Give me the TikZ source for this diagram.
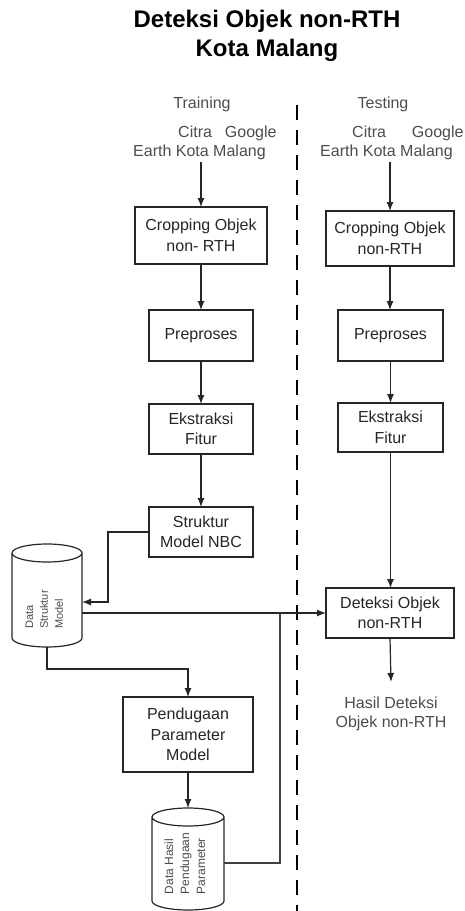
\documentclass[tikz,border=0pt]{standalone}
\usepackage{fontspec}
\setmainfont{Liberation Sans}
\usepackage{graphicx}
\usetikzlibrary{arrows.meta}

\newcommand\tank[2]{%
	\draw[tankline] ([yshift=-9pt]#1.north west) -- ([yshift=9pt]#1.south west)
		arc[start angle=180,end angle=360,x radius=#2pt,y radius=9pt]
		-- ([yshift=-9pt]#1.north east)
		arc[start angle=0,end angle=180,x radius=#2pt,y radius=9pt]
		arc[start angle=180,end angle=360,x radius=#2pt,y radius=9pt];}

\begin{document}
\begin{tikzpicture}[x=1pt,y=1pt,
		procbox/.style={draw=black!85,line width=1.4pt,fill=white,text=black!85,align=center,inner sep=0pt,outer sep=0pt,font=\fontsize{16}{20.5}\selectfont},
		caption/.style={text=black!70,inner sep=0pt,font=\fontsize{16}{19}\selectfont},
		tank/.style={inner sep=0pt,outer sep=0pt},
		tanktext/.style={inner sep=0pt,text=black!70},
		tankline/.style={draw=black!85,line width=1.2pt},
		flow/.style={draw=black!85,line width=1.2pt,-{Latex[length=9pt,width=7pt]}},
		link/.style={draw=black!75,line width=1.2pt}]
	\useasboundingbox (0,0) rectangle (464,-911);
	\node[font=\fontsize{24}{29}\selectfont\bfseries,align=center] (judul) at (267,-36) {Deteksi Objek non-RTH\\Kota Malang};
	\draw[line width=1.4pt,dash pattern=on 15pt off 10pt] (297,-105) -- (297,-911);
	\node[caption,anchor=base] (train) at (202,-108) {Training};
	\node[caption,anchor=base] (test) at (383,-108) {Testing};
	\node[caption,align=left,anchor=north west] (srcL) at (133,-125.5) {\hspace*{45pt}Citra\hspace{13pt}Google\\Earth Kota Malang};
	\node[caption,align=left,anchor=north west] (srcR) at (320,-125.5) {\hspace*{32pt}Citra\hspace{26pt}Google\\Earth Kota Malang};
	\node[procbox,minimum width=132pt,minimum height=57pt] (cropL) at (201,-235.5) {Cropping Objek\\non- RTH};
	\node[procbox,minimum width=128pt,minimum height=55pt] (cropR) at (390,-238.5) {Cropping Objek\\non-RTH};
	\node[procbox,minimum width=104pt,minimum height=51pt] (preL) at (201,-335.5) {Preproses};
	\node[procbox,minimum width=105pt,minimum height=51pt] (preR) at (390.5,-335.5) {Preproses};
	\node[procbox,minimum width=104pt,minimum height=50pt] (ekstL) at (201,-429) {Ekstraksi\\Fitur};
	\node[procbox,minimum width=105pt,minimum height=49pt] (ekstR) at (390.5,-427.5) {Ekstraksi\\Fitur};
	\node[procbox,minimum width=104pt,minimum height=50pt] (nbc) at (201,-532) {Struktur\\Model NBC};
	\node[procbox,minimum width=128pt,minimum height=50pt] (detR) at (390,-613) {Deteksi Objek\\non-RTH};
	\node[procbox,minimum width=130pt,minimum height=75pt] (pend) at (188,-734.5) {Pendugaan\\Parameter\\Model};
	\node[caption,align=center,anchor=north] (hasil) at (391,-697) {Hasil Deteksi\\Objek non-RTH};
	\node[tank,minimum width=70pt,minimum height=103pt,
		label={[tanktext,xshift=-2pt,yshift=-14pt,font=\fontsize{11}{15}\selectfont]center:\rotatebox{90}{\begin{tabular}{@{}l@{}}Data\\Struktur\\Model\end{tabular}}}] (dsm) at (47,-595.5) {};
	\node[tank,minimum width=72pt,minimum height=102pt,
		label={[tanktext,xshift=-2pt,yshift=-4.5pt,font=\fontsize{12}{16}\selectfont]center:\rotatebox{90}{\begin{tabular}{@{}l@{}}Data Hasil\\Pendugaan\\Parameter\end{tabular}}}] (dhp) at (188,-859) {};
	\tank{dsm}{35}
	\tank{dhp}{36}
	\coordinate (temu) at (280,-613);
	\draw[flow,shorten <=2pt] (cropL.north |- srcL.south) -- (cropL.north);
	\draw[flow,shorten <=2pt] (cropR.north |- srcR.south) -- (cropR.north);
	\draw[flow] (cropL.south) -- (preL.north);
	\draw[flow] (preL.south) -- (ekstL.north);
	\draw[flow] (ekstL.south) -- (nbc.north);
	\draw[flow] (cropR.south) -- (cropR.south |- preR.north);
	\draw[flow] (preR.south) -- (ekstR.north);
	\draw[flow] (ekstR.south) -- (ekstR.south |- detR.north);
	\draw[flow] (nbc.west) -- ++(-41,0) |- ([yshift=-6.5pt]dsm.east);
	\draw[flow] (dsm.east |- detR.west) -- (detR.west);
	\draw[link] ([yshift=-4pt]dhp.east) -| (temu);
	\draw[flow] (dsm.south) -- ++(0,-22) -| (pend.north);
	\draw[flow] (pend.south) -- (dhp.north);
	\draw[flow] (detR.south) -- ([yshift=15pt]hasil.north);
\end{tikzpicture}
\end{document}
